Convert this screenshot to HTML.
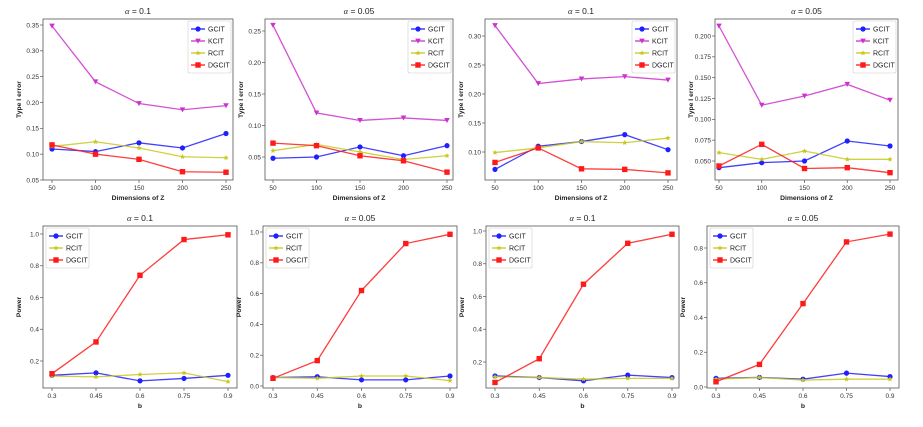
<!DOCTYPE html>
<html><head><meta charset="utf-8">
<style>
html,body{margin:0;padding:0;background:#fff;}
svg{display:block;font-family:"Liberation Sans",sans-serif;}
</style></head>
<body>
<svg id="chart" width="923" height="427" viewBox="0 0 923 427" xmlns="http://www.w3.org/2000/svg"></svg>
<script>
// ---- data ----
const dimCategories = [50, 100, 150, 200, 250];
const bCategories = [0.3, 0.45, 0.6, 0.75, 0.9];
const bTickLabels = ["0.3", "0.45", "0.6", "0.75", "0.9"];

const p1Gcit = [0.110, 0.105, 0.122, 0.112, 0.140];
const p1Kcit = [0.348, 0.240, 0.198, 0.186, 0.194];
const p1Rcit = [0.115, 0.124, 0.112, 0.095, 0.093];
const p1Dgcit = [0.118, 0.100, 0.090, 0.066, 0.065];
const p1Ticks = [0.05, 0.10, 0.15, 0.20, 0.25, 0.30, 0.35];

const p2Gcit = [0.048, 0.050, 0.066, 0.052, 0.068];
const p2Kcit = [0.259, 0.120, 0.108, 0.112, 0.108];
const p2Rcit = [0.060, 0.070, 0.058, 0.046, 0.052];
const p2Dgcit = [0.072, 0.068, 0.052, 0.044, 0.026];
const p2Ticks = [0.05, 0.10, 0.15, 0.20, 0.25];

const p3Gcit = [0.070, 0.110, 0.118, 0.130, 0.104];
const p3Kcit = [0.318, 0.218, 0.226, 0.230, 0.224];
const p3Rcit = [0.099, 0.107, 0.118, 0.116, 0.124];
const p3Dgcit = [0.082, 0.107, 0.071, 0.070, 0.064];
const p3Ticks = [0.10, 0.15, 0.20, 0.25, 0.30];

const p4Gcit = [0.042, 0.048, 0.050, 0.074, 0.068];
const p4Kcit = [0.212, 0.117, 0.128, 0.142, 0.123];
const p4Rcit = [0.060, 0.052, 0.062, 0.052, 0.052];
const p4Dgcit = [0.044, 0.070, 0.041, 0.042, 0.036];
const p4Ticks = [0.050, 0.075, 0.100, 0.125, 0.150, 0.175, 0.200];

const p5Gcit = [0.110, 0.125, 0.075, 0.090, 0.110];
const p5Rcit = [0.105, 0.100, 0.115, 0.125, 0.070];
const p5Dgcit = [0.120, 0.320, 0.740, 0.965, 0.995];
const p5Ticks = [0.2, 0.4, 0.6, 0.8, 1.0];

const p6Gcit = [0.055, 0.060, 0.040, 0.040, 0.065];
const p6Rcit = [0.055, 0.050, 0.065, 0.065, 0.035];
const p6Dgcit = [0.050, 0.165, 0.620, 0.925, 0.985];
const p6Ticks = [0.0, 0.2, 0.4, 0.6, 0.8, 1.0];

const p7Gcit = [0.115, 0.105, 0.085, 0.120, 0.105];
const p7Rcit = [0.110, 0.105, 0.095, 0.100, 0.100];
const p7Dgcit = [0.075, 0.220, 0.675, 0.925, 0.980];
const p7Ticks = [0.2, 0.4, 0.6, 0.8, 1.0];

const p8Gcit = [0.050, 0.055, 0.045, 0.080, 0.060];
const p8Rcit = [0.045, 0.055, 0.040, 0.045, 0.045];
const p8Dgcit = [0.030, 0.130, 0.480, 0.835, 0.880];
const p8Ticks = [0.0, 0.2, 0.4, 0.6, 0.8];

// ---- layout (geometry only) ----
const NS = "http://www.w3.org/2000/svg";
const svg = document.getElementById("chart");
function mk(tag, attrs, parent) {
  const e = document.createElementNS(NS, tag);
  for (const k in attrs) e.setAttribute(k, attrs[k]);
  (parent || svg).appendChild(e);
  return e;
}
const COLORS = {GCIT: "#1f1fff", KCIT: "#cc33cc", RCIT: "#c8c81e", DGCIT: "#ff1a1a"};
const MARK = {GCIT: "circle", KCIT: "tri", RCIT: "star", DGCIT: "square"};

function marker(g, type, x, y, c) {
  let m;
  if (type === "circle") m = mk("circle", {cx: x, cy: y, r: 2.6, fill: c}, g);
  else if (type === "square") m = mk("rect", {x: x - 2.7, y: y - 2.7, width: 5.4, height: 5.4, fill: c}, g);
  else if (type === "tri") m = mk("polygon", {points: `${x-2.8},${y-2.4} ${x+2.8},${y-2.4} ${x},${y+2.6}`, fill: c}, g);
  else {
    let p = [];
    for (let i = 0; i < 10; i++) {
      const a = -Math.PI / 2 + i * Math.PI / 5, r = i % 2 ? 1.3 : 2.8;
      p.push((x + r * Math.cos(a)).toFixed(2) + "," + (y + r * Math.sin(a)).toFixed(2));
    }
    m = mk("polygon", {points: p.join(" "), fill: c}, g);
  }
  return m;
}

const panels = [
  {id: 1, title: "0.1", box: [43, 19, 233, 180], xr: [52, 226], yr: [25, 180, 0.35, 0.05], cats: dimCategories, xt: dimCategories.map(String), xl: "Dimensions of Z", yl: "Type I error", ticks: p1Ticks, dec: 2,
   series: {GCIT: p1Gcit, KCIT: p1Kcit, RCIT: p1Rcit, DGCIT: p1Dgcit}, leg: "right"},
  {id: 2, title: "0.05", box: [265, 19, 453, 180], xr: [273, 447], yr: [31, 157, 0.25, 0.05], cats: dimCategories, xt: dimCategories.map(String), xl: "Dimensions of Z", yl: "Type I error", ticks: p2Ticks, dec: 2,
   series: {GCIT: p2Gcit, KCIT: p2Kcit, RCIT: p2Rcit, DGCIT: p2Dgcit}, leg: "right"},
  {id: 3, title: "0.1", box: [485, 19, 677, 180], xr: [495, 668], yr: [36, 152, 0.30, 0.10], cats: dimCategories, xt: dimCategories.map(String), xl: "Dimensions of Z", yl: "Type I error", ticks: p3Ticks, dec: 2,
   series: {GCIT: p3Gcit, KCIT: p3Kcit, RCIT: p3Rcit, DGCIT: p3Dgcit}, leg: "right"},
  {id: 4, title: "0.05", box: [715, 19, 898, 180], xr: [719, 890], yr: [36, 161, 0.200, 0.050], cats: dimCategories, xt: dimCategories.map(String), xl: "Dimensions of Z", yl: "Type I error", ticks: p4Ticks, dec: 3,
   series: {GCIT: p4Gcit, KCIT: p4Kcit, RCIT: p4Rcit, DGCIT: p4Dgcit}, leg: "right"},
  {id: 5, title: "0.1", box: [43, 226, 237, 388], xr: [52, 228], yr: [234, 361, 1.0, 0.2], cats: bCategories, xt: bTickLabels, xl: "b", yl: "Power", ticks: p5Ticks, dec: 1,
   series: {GCIT: p5Gcit, RCIT: p5Rcit, DGCIT: p5Dgcit}, leg: "left"},
  {id: 6, title: "0.05", box: [263, 226, 457, 388], xr: [273, 450], yr: [232, 386, 1.0, 0.0], cats: bCategories, xt: bTickLabels, xl: "b", yl: "Power", ticks: p6Ticks, dec: 1,
   series: {GCIT: p6Gcit, RCIT: p6Rcit, DGCIT: p6Dgcit}, leg: "left"},
  {id: 7, title: "0.1", box: [486, 226, 679, 388], xr: [495, 672], yr: [231, 362, 1.0, 0.2], cats: bCategories, xt: bTickLabels, xl: "b", yl: "Power", ticks: p7Ticks, dec: 1,
   series: {GCIT: p7Gcit, RCIT: p7Rcit, DGCIT: p7Dgcit}, leg: "left"},
  {id: 8, title: "0.05", box: [707, 226, 899, 388], xr: [716, 890], yr: [248, 387, 0.8, 0.0], cats: bCategories, xt: bTickLabels, xl: "b", yl: "Power", ticks: p8Ticks, dec: 1,
   series: {GCIT: p8Gcit, RCIT: p8Rcit, DGCIT: p8Dgcit}, leg: "left"},
];

panels.forEach(p => {
  const g = mk("g", {});
  
  
  const [x0, y0, x1, y1] = p.box;
  const c0 = p.cats[0], cN = p.cats[p.cats.length - 1];
  const xs = v => p.xr[0] + (v - c0) * (p.xr[1] - p.xr[0]) / (cN - c0);
  const ys = v => p.yr[0] + (v - p.yr[2]) * (p.yr[1] - p.yr[0]) / (p.yr[3] - p.yr[2]);

  const frame = mk("rect", {x: x0, y: y0, width: x1 - x0, height: y1 - y0, fill: "none", stroke: "#555", "stroke-width": 0.8}, g);
  
  

  const t = mk("text", {x: (x0 + x1) / 2, y: y0 - 5, "text-anchor": "middle", "font-size": 8.5, fill: "#222"}, g);
  t.innerHTML = '<tspan font-style="italic" font-family="Liberation Serif">α</tspan> = ' + p.title;
  
  

  p.cats.forEach((c, i) => {
    const x = xs(c);
    mk("line", {x1: x, x2: x, y1: y1, y2: y1 + 3, stroke: "#555", "stroke-width": 0.7}, g);
    const tl = mk("text", {x: x, y: y1 + 10, "text-anchor": "middle", "font-size": 6.5, fill: "#333"}, g);
    tl.textContent = p.xt[i];
    
    
  });
  p.ticks.forEach(v => {
    const y = ys(v);
    mk("line", {x1: x0 - 3, x2: x0, y1: y, y2: y, stroke: "#555", "stroke-width": 0.7}, g);
    const tl = mk("text", {x: x0 - 4, y: y + 2.3, "text-anchor": "end", "font-size": 6.5, fill: "#333"}, g);
    tl.textContent = v.toFixed(p.dec);
    
    
  });
  const xl = mk("text", {x: (x0 + x1) / 2, y: y1 + 20, "text-anchor": "middle", "font-size": 6.8, "font-weight": "bold", fill: "#222"}, g);
  xl.textContent = p.xl;
  
  
  const yx = x0 - 22, yc = (y0 + y1) / 2;
  const yl = mk("text", {x: yx, y: yc, "text-anchor": "middle", "font-size": 6.8, "font-weight": "bold", fill: "#222", transform: `rotate(-90 ${yx} ${yc})`}, g);
  yl.textContent = p.yl;
  
  

  Object.keys(p.series).forEach(name => {
    const vals = p.series[name], col = COLORS[name];
    const sg = mk("g", {}, g);
    
    
    const pts = vals.map((v, i) => xs(p.cats[i]).toFixed(2) + "," + ys(v).toFixed(2)).join(" ");
    const ln = mk("polyline", {points: pts, fill: "none", stroke: col, "stroke-width": 1.3, "stroke-opacity": 0.85}, sg);
    
    
    vals.forEach((v, i) => {
      const m = marker(sg, MARK[name], xs(p.cats[i]), ys(v), col);
      
      
    });
  });

  // legend
  const names = Object.keys(p.series);
  const lw = 43, lh = names.length * 12 + 4;
  const lx = p.leg === "right" ? x1 - lw - 2 : x0 + 3;
  const ly = y0 + 2;
  const lg = mk("g", {}, g);
  
  
  mk("rect", {x: lx, y: ly, width: lw, height: lh, rx: 1.5, fill: "#fff", stroke: "#ccc", "stroke-width": 0.6}, lg);
  names.forEach((n, i) => {
    const ey = ly + 8 + i * 12;
    const eg = mk("g", {}, lg);
    
    
    mk("line", {x1: lx + 3, x2: lx + 17, y1: ey, y2: ey, stroke: COLORS[n], "stroke-width": 1.3}, eg);
    marker(eg, MARK[n], lx + 10, ey, COLORS[n]);
    const tx = mk("text", {x: lx + 20, y: ey + 2.5, "font-size": 7, fill: "#222"}, eg);
    tx.textContent = n;
  });
});
</script>
</body></html>
